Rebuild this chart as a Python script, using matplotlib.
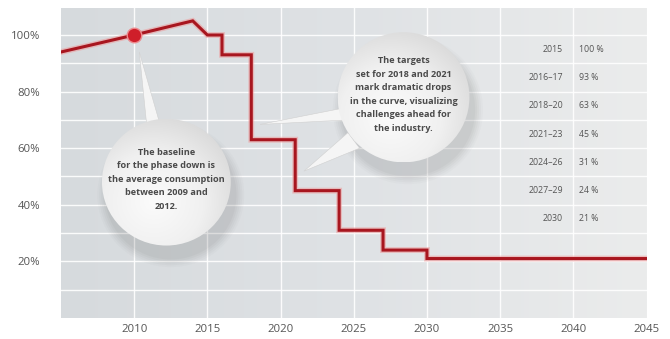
"""Phase-down curve with callout bubbles and a step table."""

import numpy as np
import matplotlib
matplotlib.use("Agg")
import matplotlib.pyplot as plt
import matplotlib.patheffects as pe
from matplotlib.patches import Ellipse, Polygon

# baseline period (rising then falling to the 2015 freeze)
baseline_years = [2005, 2010, 2014, 2015]
baseline_vals = [94, 100, 105, 100]

# phase-down targets (step curve)
target_years = [2015, 2016, 2018, 2021, 2024, 2027, 2030, 2045]
target_vals = [100, 93, 63, 45, 31, 24, 21, 21]

# table on the right
table_periods = ["2015", "2016–17", "2018–20", "2021–23", "2024–26", "2027–29", "2030"]
table_values = ["100 %", "93 %", "63 %", "45 %", "31 %", "24 %", "21 %"]
table_rows = [95, 85, 75, 65, 55, 45, 35]

x_ticks = [2010, 2015, 2020, 2025, 2030, 2035, 2040, 2045]
y_ticks = [20, 40, 60, 80, 100]

LINE_RED = "#a8161f"
TEXT_GREY = "#555555"

plt.rcParams["font.family"] = ["Open Sans", "DejaVu Sans"]

fig = plt.figure(figsize=(6.70, 3.39), dpi=100)
ax = fig.add_axes([0.091, 0.062, 0.874, 0.914])
ax.set_xlim(2005, 2045)
ax.set_ylim(0, 109.5)

# background: soft horizontal gradient, darker on the left
grad = np.linspace(0, 1, 256).reshape(1, -1)
cmap = matplotlib.colors.LinearSegmentedColormap.from_list(
    "bg", ["#d6dadd", "#dfe2e5", "#ebecec"])
ax.imshow(grad, extent=[2005, 2045, 0, 109.5], aspect="auto",
          cmap=cmap, zorder=0)

# white grid
for yy in range(10, 110, 10):
    ax.axhline(yy, color="white", lw=1.0, alpha=0.9, zorder=1)
for xx in range(2010, 2045, 5):
    ax.axvline(xx, color="white", lw=1.0, alpha=0.9, zorder=1)

# curve: baseline line joined to the step targets
step_x, step_y = [], []
for i in range(len(target_years) - 1):
    step_x += [target_years[i], target_years[i + 1]]
    step_y += [target_vals[i], target_vals[i]]
step_x.append(target_years[-1])
step_y.append(target_vals[-1])
curve_x = baseline_years[:-1] + step_x
curve_y = baseline_vals[:-1] + step_y

glow = [pe.Stroke(linewidth=4.2, foreground="#ee9a9a", alpha=0.55), pe.Normal()]
ax.plot(curve_x, curve_y, color=LINE_RED, lw=2.2, solid_joinstyle="miter",
        path_effects=glow, zorder=4)
ax.plot(baseline_years[1], baseline_vals[1], "o", ms=10.5, color="#cf1f2a",
        mec="#ec8a8e", mew=1.0, zorder=5)


def bubble(cx, cy, rx, ry, text, pointers):
    # soft shadow, mostly below the disc
    for k, a in enumerate([0.025, 0.03, 0.035, 0.04, 0.045]):
        s = 1.14 - k * 0.03
        ax.add_patch(Ellipse((cx + 0.3, cy - 4.5), 2 * rx * s, 2 * ry * s,
                             fc="#505050", ec="none", alpha=a, zorder=5))
    # pointers
    for tip, b1, b2 in pointers:
        ax.add_patch(Polygon([tip, b1, b2], closed=True, fc="#f5f5f5",
                             ec="#d0d0d0", lw=0.4, zorder=5.5))
    # shaded disc
    circ = Ellipse((cx, cy), 2 * rx, 2 * ry, fc="none", ec="none", zorder=6)
    ax.add_patch(circ)
    yy, xx = np.mgrid[-1:1:200j, -1:1:200j]
    r = np.sqrt((xx + 0.2) ** 2 + (yy - 0.3) ** 2)
    shade = np.clip(r / 1.55, 0, 1)
    dcmap = matplotlib.colors.LinearSegmentedColormap.from_list(
        "disc", ["#fbfbfb", "#f0f0f0", "#d4d4d4"])
    im = ax.imshow(shade, extent=[cx - rx, cx + rx, cy - ry, cy + ry],
                   origin="upper", aspect="auto", cmap=dcmap, zorder=6)
    im.set_clip_path(circ)
    ax.text(cx, cy + 1, text, ha="center", va="center", fontsize=6.6,
            fontweight="bold", color="#4a4a4a", linespacing=1.65, zorder=7)


bubble(2012.2, 48, 4.4, 22.4,
       "The baseline\nfor the phase down is\nthe average consumption\n"
       "between 2009 and\n2012.",
       [((2010.35, 94), (2010.9, 66), (2011.9, 66))])

bubble(2028.4, 78, 4.5, 23.0,
       "The targets\nset for 2018 and 2021\nmark dramatic drops\n"
       "in the curve, visualizing\nchallenges ahead for\nthe industry.",
       [((2018.6, 68.4), (2024.6, 74.5), (2024.6, 70.0)),
        ((2021.6, 51.9), (2024.6, 65.5), (2025.4, 60.0))])

# table text
for per, val, row in zip(table_periods, table_values, table_rows):
    ax.text(2039.3, row, per, ha="right", va="center", fontsize=6.3,
            color=TEXT_GREY, zorder=3)
    ax.text(2040.4, row, val, ha="left", va="center", fontsize=6.3,
            color=TEXT_GREY, zorder=3)

ax.set_xticks(x_ticks)
ax.set_xticklabels([str(t) for t in x_ticks])
ax.set_yticks(y_ticks)
ax.set_yticklabels([f"{t}%" for t in y_ticks])
ax.tick_params(length=0, labelsize=8.2, colors=TEXT_GREY)
ax.tick_params(axis="y", pad=15)
ax.tick_params(axis="x", pad=4)
for s in ax.spines.values():
    s.set_visible(False)

fig.savefig("out.png", dpi=100)
